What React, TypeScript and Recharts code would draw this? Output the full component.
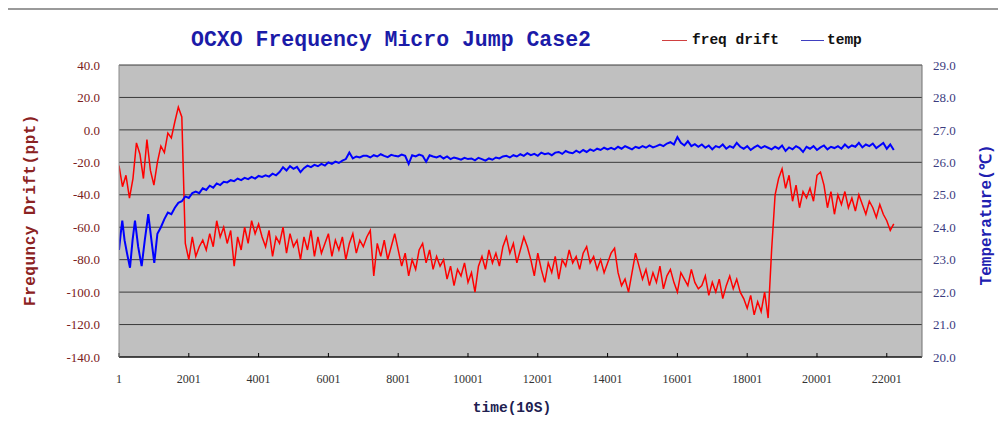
import React from 'react';
import { ComposedChart, Line, XAxis, YAxis, CartesianGrid } from 'recharts';

// x axis: sample index (10 s per step)
const xTicks = [1, 2001, 4001, 6001, 8001, 10001, 12001, 14001, 16001, 18001, 20001, 22001];
const driftTicks = [-140, -120, -100, -80, -60, -40, -20, 0, 20, 40];
const tempTicks = [20, 21, 22, 23, 24, 25, 26, 27, 28, 29];

// freq drift (ppt), one reading every 100 samples starting at 1
const driftStep = 100;
const driftValues = [
  -22, -35, -28, -42, -30, -8, -15, -30, -6, -25, -34, -20, -10, -14, -2, -5, 5, 14, 8,
  -70, -80, -66, -78, -72,
  -68, -74, -64, -72,
  -56, -66, -60,
  -70, -62, -84, -66, -74, -60, -70,
  -56, -64, -58, -66,
  -72, -62, -78, -66, -70, -60, -76, -64, -72, -68, -80, -66, -74, -62, -78,
  -66, -76, -70, -64, -78, -68, -74, -66, -80, -70, -64, -76, -68, -72, -66, -62,
  -90,
  -70, -78, -68, -80, -72, -64, -74,
  -84, -76, -90, -80, -86, -74,
  -70, -82, -74, -86, -78, -84,
  -80, -92, -84, -96, -86, -90, -82, -94, -88, -100,
  -84, -78, -86, -74, -82, -76, -84, -72, -66,
  -76, -70, -82, -74, -66, -72,
  -80, -90, -76, -86, -94, -82, -88, -78, -92,
  -80, -84, -74, -82, -78, -86, -76, -72,
  -82, -78, -86, -80, -88, -82,
  -76, -73,
  -88, -96, -92, -100,
  -88, -76, -84,
  -92, -86, -96, -88, -94, -84, -98, -90, -86, -94, -100, -88, -92, -96, -86, -94, -98,
  -96, -90, -102, -94, -100, -92, -104, -96, -90,
  -98, -92, -100,
  -104, -110, -102, -114, -106,
  -112, -100, -116,
  -74,
  -40,
  -30, -24, -36, -28,
  -44, -34, -48,
  -38, -42, -36, -44,
  -28, -26, -34,
  -48, -38, -52, -40, -46,
  -38, -48, -42, -50, -40, -46, -52, -44,
  -48, -54, -46, -52,
  -56, -62, -58,
];

// temperature (°C): the oscillating start is read at its turning points
const tempEarlyTimes = [1, 50, 95, 160, 230, 316, 390, 459, 550, 650, 740, 840, 930, 1012, 1101];
const tempEarlyValues = [23.3, 23.8, 24.2, 23.6, 23.2, 22.75, 23.6, 24.2, 23.4, 22.8, 23.6, 24.4, 23.6, 22.9, 23.8];
// then one reading every 100 samples from 1201
const tempStart = 1201;
const tempValues = [
  24.0, 24.25, 24.45, 24.4, 24.6, 24.75, 24.8, 24.95, 24.9, 25.05, 25.1, 25.05, 25.2, 25.15, 25.28, 25.22, 25.35, 25.3, 25.4,
  25.38, 25.45, 25.42, 25.5, 25.45, 25.52, 25.48,
  25.55, 25.5, 25.58, 25.55, 25.6, 25.56, 25.65, 25.6,
  25.7, 25.85, 25.75, 25.88, 25.8, 25.86,
  25.7, 25.82, 25.9, 25.85, 25.92,
  25.88, 25.95, 25.9, 26.0, 25.95, 26.02, 25.98,
  26.05, 26.1, 26.3, 26.12, 26.18, 26.15, 26.2,
  26.2, 26.15, 26.22, 26.18, 26.25, 26.2, 26.16, 26.23, 26.2, 26.18, 26.24, 26.2, 25.95, 26.22, 26.18,
  26.24, 26.2, 26.02, 26.22, 26.18, 26.15, 26.2, 26.12, 26.18, 26.1, 26.15, 26.12, 26.08, 26.14, 26.1,
  26.12, 26.06, 26.14, 26.1, 26.05, 26.12, 26.08, 26.15, 26.12, 26.18,
  26.2, 26.15, 26.22, 26.18, 26.25, 26.2, 26.28, 26.22, 26.26, 26.2, 26.3, 26.25, 26.28, 26.22, 26.3,
  26.32, 26.26, 26.35, 26.3, 26.28, 26.36, 26.3, 26.38, 26.32, 26.4, 26.35, 26.42, 26.38, 26.45, 26.4,
  26.45, 26.4, 26.48, 26.42, 26.5, 26.45, 26.4, 26.48, 26.44, 26.5, 26.45, 26.52, 26.46, 26.5, 26.55,
  26.5, 26.58, 26.62, 26.55, 26.78, 26.6, 26.52, 26.65, 26.5, 26.56,
  26.48, 26.55, 26.45, 26.52, 26.4, 26.5, 26.46, 26.55, 26.42, 26.5, 26.45, 26.6, 26.48, 26.42, 26.5, 26.38, 26.46, 26.52, 26.44, 26.5,
  26.45, 26.4, 26.48, 26.42, 26.52, 26.35, 26.46, 26.4, 26.5, 26.44, 26.32, 26.48, 26.42, 26.5, 26.38, 26.46, 26.52, 26.4, 26.48, 26.44,
  26.5, 26.42, 26.55, 26.45, 26.52, 26.48, 26.6, 26.46, 26.55, 26.5, 26.58, 26.44, 26.52, 26.6, 26.42, 26.55, 26.38,
];

const driftData = driftValues.map((v, i) => ({ t: 1 + i * driftStep, drift: v }));
const tempData = [
  ...tempEarlyTimes.map((t, i) => ({ t, temp: tempEarlyValues[i] })),
  ...tempValues.map((v, i) => ({ t: tempStart + i * driftStep, temp: v })),
];

const MONO = '"Liberation Mono", "DejaVu Sans Mono", monospace';
const SERIF = '"Liberation Serif", "DejaVu Serif", serif';

const rotated = (cx: number, cy: number): React.CSSProperties => ({
  position: 'absolute',
  left: cx,
  top: cy,
  transform: 'translate(-50%, -50%) rotate(-90deg)',
  whiteSpace: 'nowrap',
  fontFamily: MONO,
  fontWeight: 'bold',
  fontSize: 16,
});

export default function App() {
  return (
    <div style={{ position: 'relative', width: 998, height: 415, background: '#fff' }}>
      <div
        style={{
          position: 'absolute',
          left: -2,
          top: 0,
          width: 1000,
          height: 415,
          borderTop: '2px solid #9a9a9a',
          borderLeft: '2px solid #9a9a9a',
          boxSizing: 'border-box',
        }}
      />
      <ComposedChart width={998} height={415} margin={{ top: 57, right: 24, bottom: 36, left: 61 }}>
        <CartesianGrid yAxisId="left" vertical={false} stroke="#3a3a3a" fill="#c0c0c0" fillOpacity={1} />
        <XAxis
          dataKey="t"
          type="number"
          domain={[1, 23010]}
          ticks={xTicks}
          allowDataOverflow
          height={30}
          stroke="#000"
          tickSize={-4}
          tickMargin={21}
          tick={{ fill: '#333', fontSize: 12, fontFamily: SERIF }}
        />
        <YAxis
          yAxisId="left"
          domain={[-140, 40]}
          ticks={driftTicks}
          width={50}
          axisLine={{ stroke: '#8a8a8a' }}
          tickLine={false}
          tickSize={0}
          tickMargin={19}
          tickFormatter={(v: number) => v.toFixed(1)}
          tick={{ fill: '#7a2020', fontSize: 13, fontFamily: SERIF }}
        />
        <YAxis
          yAxisId="right"
          orientation="right"
          domain={[20, 29]}
          ticks={tempTicks}
          width={60}
          axisLine={{ stroke: '#707070' }}
          tickLine={false}
          tickSize={0}
          tickMargin={11}
          tickFormatter={(v: number) => v.toFixed(1)}
          tick={{ fill: '#3c3c80', fontSize: 13, fontFamily: SERIF, textAnchor: 'start' }}
        />
        <Line
          yAxisId="left"
          data={driftData}
          dataKey="drift"
          stroke="#ff0000"
          strokeWidth={1.5}
          dot={false}
          isAnimationActive={false}
        />
        <Line
          yAxisId="right"
          data={tempData}
          dataKey="temp"
          stroke="#0000ff"
          strokeWidth={2}
          dot={false}
          isAnimationActive={false}
        />
      </ComposedChart>

      <div
        style={{
          position: 'absolute',
          left: 383,
          top: 32,
          transform: 'translate(-50%, -50%)',
          whiteSpace: 'nowrap',
          fontFamily: MONO,
          fontWeight: 'bold',
          fontSize: 21.5,
          color: '#1b1ba8',
        }}
      >
        OCXO Frequency Micro Jump Case2
      </div>

      <div
        style={{
          position: 'absolute',
          left: 654,
          top: 24,
          display: 'flex',
          alignItems: 'center',
          fontFamily: MONO,
          fontWeight: 'bold',
          fontSize: 14.5,
          color: '#111',
          whiteSpace: 'nowrap',
        }}
      >
        <span style={{ display: 'inline-block', width: 25, height: 1, background: '#d04040', marginRight: 5 }} />
        <span>freq drift</span>
        <span style={{ display: 'inline-block', width: 23, height: 1, background: '#4040c0', marginLeft: 22, marginRight: 3 }} />
        <span>temp</span>
      </div>

      <div style={{ ...rotated(23, 202), color: '#8b2222', letterSpacing: 0.5 }}>Frequncy Drift(ppt)</div>
      <div style={{ ...rotated(977, 207), color: '#2020b0' }}>Temperature(℃)</div>
      <div
        style={{
          position: 'absolute',
          left: 504,
          top: 400,
          transform: 'translate(-50%, -50%)',
          whiteSpace: 'nowrap',
          fontFamily: MONO,
          fontWeight: 'bold',
          fontSize: 14.5,
          color: '#202050',
        }}
      >
        time(10S)
      </div>
    </div>
  );
}
